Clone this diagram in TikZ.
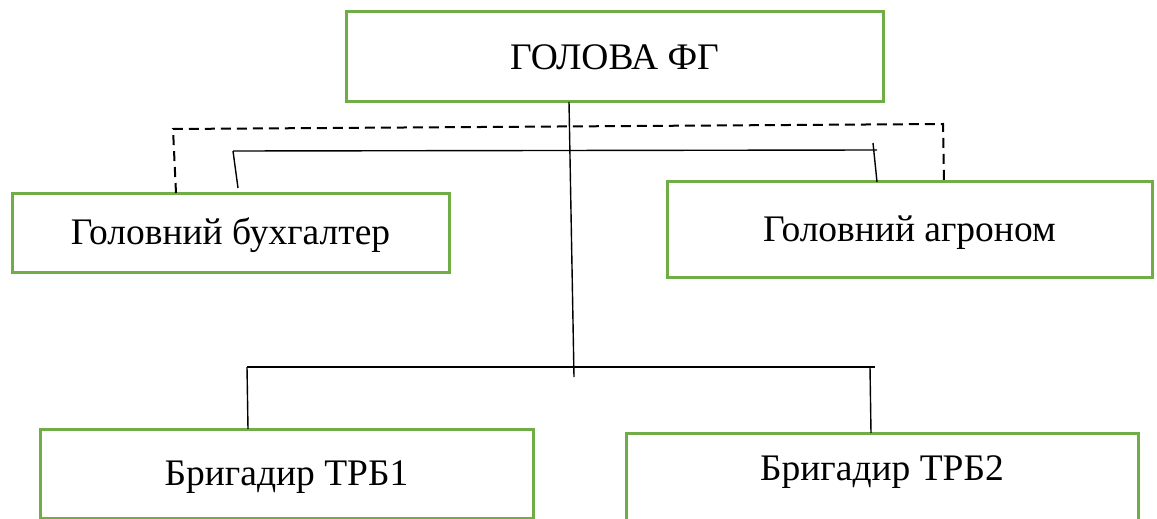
\documentclass[tikz,border=0pt]{standalone}
\usepackage{fontspec}
\setmainfont{Liberation Serif}
\definecolor{boxgreen}{RGB}{112,173,71}
\tikzset{
  orgbox/.style={draw=boxgreen, line width=1.5pt, inner sep=0pt, outer sep=0pt, font=\fontsize{18.75}{22}\selectfont, text height=12.4pt, text depth=0pt},
  link/.style={draw=black, line width=0.7pt, line cap=butt},
  advise/.style={draw=black, line width=1pt, line cap=butt, dash pattern=on 5pt off 3pt}
}
\begin{document}
\begin{tikzpicture}[y=-0.50pt, x=0.50pt]
\useasboundingbox (0,0) rectangle (1157,519);
% boxes
\node[orgbox, minimum width=268.5pt, minimum height=45pt] (head) at (614.5,57) {ГОЛОВА ФГ};
\node[orgbox, minimum width=218.5pt, minimum height=39.5pt] (buh) at (230.5,232.5) {Головний бухгалтер};
\node[orgbox, minimum width=242.5pt, minimum height=47.5pt] (agr) at (909.5,229.5) {Головний агроном};
\node[orgbox, minimum width=246.5pt, minimum height=44.5pt] (trb1) at (286.5,473.5) {Бригадир ТРБ1};
\node[orgbox, minimum width=256pt, minimum height=63.5pt, text depth=28pt] (trb2) at (882,496.5) {Бригадир ТРБ2};
% bus points
\coordinate (busA-l) at (233,151);
\coordinate (busA-r) at (877,150);
\coordinate (tickA) at (873,143);
\coordinate (buh-tip) at (238,188);
\coordinate (busB-l) at (247,367);
\coordinate (busB-r) at (875,367);
\coordinate (dropB-r) at (870,367);
\coordinate (trunk-end) at (574,377);
\coordinate (dash-l) at (173,129);
\coordinate (dash-r) at (943,124);
% solid lines
\path[link] ([xshift=-22.75pt]head.south) -- (trunk-end);
\path[link] (busA-l) -- (busA-r);
\path[link] (busA-l) -- (buh-tip);
\path[link] (tickA) -- ([xshift=-16.25pt]agr.north);
\path[link] (busB-l) -- (busB-r);
\path[link] (busB-l) -- ([xshift=-19.25pt]trb1.north);
\path[link] (dropB-r) -- ([xshift=-5.5pt]trb2.north);
% dashed line
\path[advise] ([xshift=-27.25pt]buh.north) -- (dash-l) -- (dash-r) -- ([xshift=17.25pt]agr.north);
\end{tikzpicture}
\end{document}
